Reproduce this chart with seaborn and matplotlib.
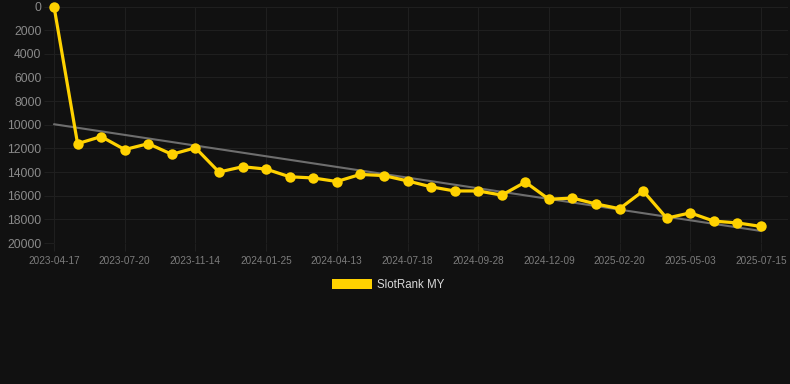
import numpy as np
import pandas as pd
import matplotlib
matplotlib.use("Agg")
import matplotlib.pyplot as plt
from matplotlib.patches import Patch
import seaborn as sns

dates = ["2023-04-17", "2023-05-08", "2023-05-29", "2023-07-20", "2023-08-10",
         "2023-09-01", "2023-11-14", "2023-12-05", "2023-12-26", "2024-01-25",
         "2024-02-15", "2024-03-07", "2024-04-13", "2024-05-04", "2024-05-25",
         "2024-07-18", "2024-08-08", "2024-08-29", "2024-09-28", "2024-10-19",
         "2024-11-09", "2024-12-09", "2024-12-30", "2025-01-20", "2025-02-20",
         "2025-03-13", "2025-04-03", "2025-05-03", "2025-05-24", "2025-06-14",
         "2025-07-15"]
rank = [0, 11600, 11000, 12100, 11600, 12500, 11950, 14000, 13550, 13750,
        14400, 14500, 14800, 14200, 14300, 14750, 15250, 15600, 15600, 15950,
        14850, 16300, 16200, 16700, 17100, 15600, 17900, 17450, 18150, 18300,
        18600]
y_ticks = [0, 2000, 4000, 6000, 8000, 10000, 12000, 14000, 16000, 18000, 20000]
series_name = "SlotRank MY"

BG = "#111111"
GRID = "#1f1f1f"
YELLOW = "#FFD200"
TREND = "#6e6e6e"

sns.set_theme(style="dark")
plt.rcParams["font.family"] = ["Liberation Sans", "DejaVu Sans"]

df = pd.DataFrame({"idx": np.arange(len(rank)), "rank": rank, "date": dates})

fig = plt.figure(figsize=(7.9, 3.84), dpi=100, facecolor=BG)
ax = fig.add_axes([54 / 790, 1 - 243 / 384, (788 - 54) / 790, (243 - 6.5) / 384])
ax.set_facecolor(BG)

# trend line (linear regression through the data)
sns.regplot(data=df, x="idx", y="rank", ax=ax, scatter=False, ci=None,
            color=TREND, line_kws={"linewidth": 1.5, "zorder": 2})

sns.lineplot(data=df, x="idx", y="rank", ax=ax, color=YELLOW, linewidth=2.3,
             marker="o", markersize=7.5, markeredgewidth=0, zorder=3,
             clip_on=False)
for line in ax.lines:
    line.set_clip_on(False)

ax.set_ylim(20000, 0)
ax.set_xlim(0, 30 + (788 - 761) / 23.57)
ax.set_yticks(y_ticks)
ax.set_yticklabels([str(v) for v in y_ticks])
tick_idx = list(range(0, len(dates), 3))
ax.set_xticks(tick_idx)
ax.set_xticklabels([dates[i] for i in tick_idx])

ax.grid(True, color=GRID, linewidth=0.8)
ax.set_axisbelow(True)
for s in ax.spines.values():
    s.set_visible(False)
ax.tick_params(axis="y", length=7, width=0.8, color=GRID, pad=2,
               labelsize=8.7, labelcolor="#8a8a8a", left=True)
ax.tick_params(axis="x", length=6, width=0.8, color=GRID, pad=3,
               labelsize=7.2, labelcolor="#7c7c7c", bottom=True)
ax.set_xlabel("")
ax.set_ylabel("")

handle = Patch(facecolor=YELLOW, edgecolor="none", label=series_name)
leg = fig.legend(handles=[handle], loc="center",
                 bbox_to_anchor=(388 / 790, 1 - 284.5 / 384), frameon=False,
                 handlelength=3.5, handleheight=0.95, handletextpad=0.45,
                 fontsize=8.3)
for t in leg.get_texts():
    t.set_color("#d8d8d8")

fig.savefig("out.png", dpi=100, facecolor=BG)
